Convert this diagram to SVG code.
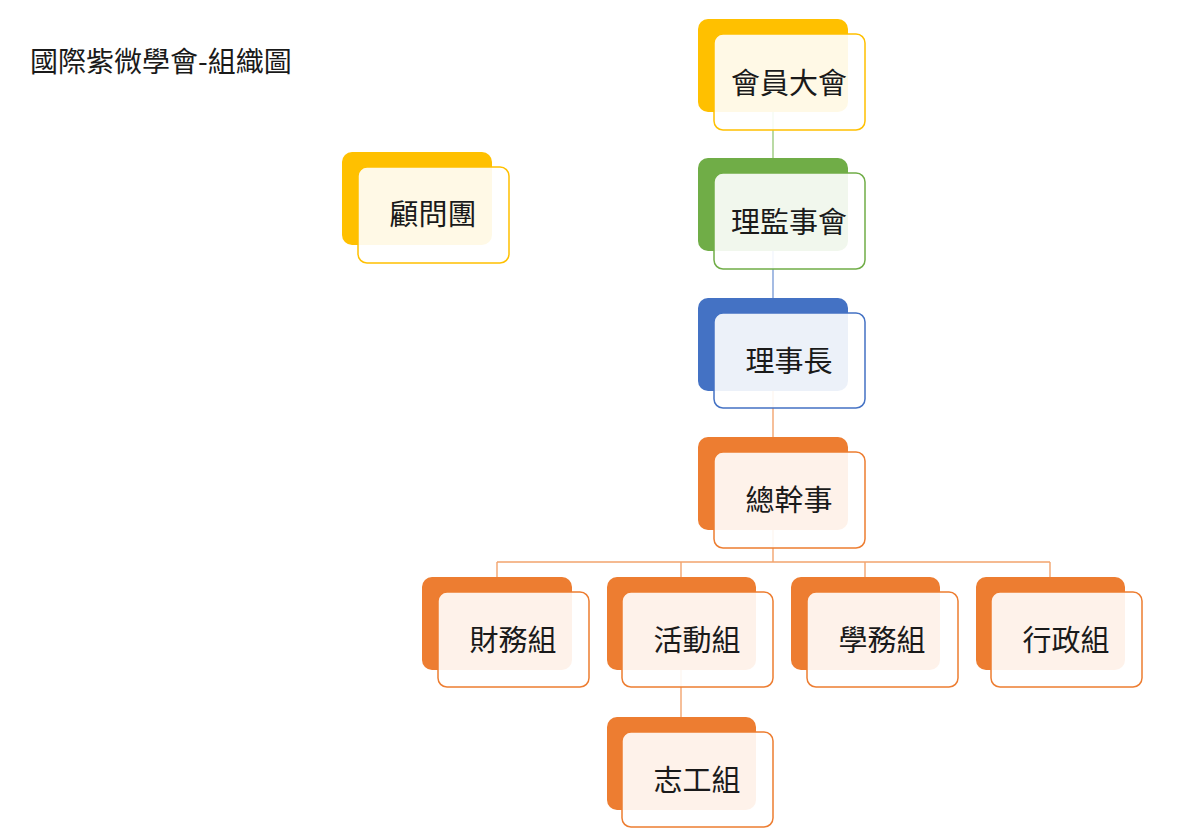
<svg xmlns="http://www.w3.org/2000/svg" width="1200" height="839" viewBox="0 0 1200 839">
<style>
.t{font-family:"Noto Sans CJK TC","Noto Sans CJK SC",sans-serif;fill:#1a1a1a;text-anchor:middle;dominant-baseline:central}
.lbl{font-size:29px}
.back{stroke:none}
.front{fill:#ffffff;fill-opacity:0.9;stroke-width:1.5}
.y .back{fill:#FFC000}.y .front{stroke:#FFC000}
.g .back{fill:#70AD47}.g .front{stroke:#70AD47}
.b .back{fill:#4472C4}.b .front{stroke:#4472C4}
.o .back{fill:#ED7D31}.o .front{stroke:#ED7D31}
.c{fill:none;stroke-width:1.4}
</style>
<rect width="1200" height="839" fill="#ffffff"/>
<text class="t" x="30" y="60" font-size="28" style="text-anchor:start">國際紫微學會-組織圖</text>
<g id="connectors">
<path class="c" stroke="#9CCB7E" d="M773 82V221"/>
<path class="c" stroke="#7F9FD8" d="M773 221V360"/>
<path class="c" stroke="#F2A46E" d="M773 360V500"/>
<path class="c" stroke="#F2A46E" d="M773 500V562M497 562H1050M497 562V640M681 562V640M865 562V640M1050 562V640"/>
<path class="c" stroke="#F2A46E" d="M681 640V780"/>
</g>
<g id="n1" class="y"><rect class="back" x="698" y="19" width="150" height="93" rx="10"/><rect class="front" x="714" y="34" width="151" height="96" rx="9"/><text class="t lbl" x="789" y="81">會員大會</text></g>
<g id="n2" class="g"><rect class="back" x="698" y="158" width="150" height="93" rx="10"/><rect class="front" x="714" y="173" width="151" height="96" rx="9"/><text class="t lbl" x="789" y="220">理監事會</text></g>
<g id="n3" class="b"><rect class="back" x="698" y="298" width="150" height="93" rx="10"/><rect class="front" x="714" y="313" width="151" height="95" rx="9"/><text class="t lbl" x="789" y="359">理事長</text></g>
<g id="n4" class="o"><rect class="back" x="698" y="437" width="150" height="93" rx="10"/><rect class="front" x="714" y="452" width="151" height="96" rx="9"/><text class="t lbl" x="789" y="498">總幹事</text></g>
<g id="n5" class="y"><rect class="back" x="342" y="152" width="150" height="93" rx="10"/><rect class="front" x="358" y="167" width="151" height="96" rx="9"/><text class="t lbl" x="433" y="212">顧問團</text></g>
<g id="n6" class="o"><rect class="back" x="422" y="577" width="150" height="93" rx="10"/><rect class="front" x="438" y="592" width="151" height="95" rx="9"/><text class="t lbl" x="513" y="638">財務組</text></g>
<g id="n7" class="o"><rect class="back" x="607" y="577" width="149" height="93" rx="10"/><rect class="front" x="622" y="592" width="151" height="95" rx="9"/><text class="t lbl" x="697" y="638">活動組</text></g>
<g id="n8" class="o"><rect class="back" x="791" y="577" width="149" height="93" rx="10"/><rect class="front" x="807" y="592" width="151" height="95" rx="9"/><text class="t lbl" x="882" y="638">學務組</text></g>
<g id="n9" class="o"><rect class="back" x="976" y="577" width="149" height="93" rx="10"/><rect class="front" x="991" y="592" width="151" height="95" rx="9"/><text class="t lbl" x="1066" y="638">行政組</text></g>
<g id="n10" class="o"><rect class="back" x="607" y="717" width="149" height="93" rx="10"/><rect class="front" x="622" y="732" width="151" height="95" rx="9"/><text class="t lbl" x="697" y="778">志工組</text></g>
</svg>
